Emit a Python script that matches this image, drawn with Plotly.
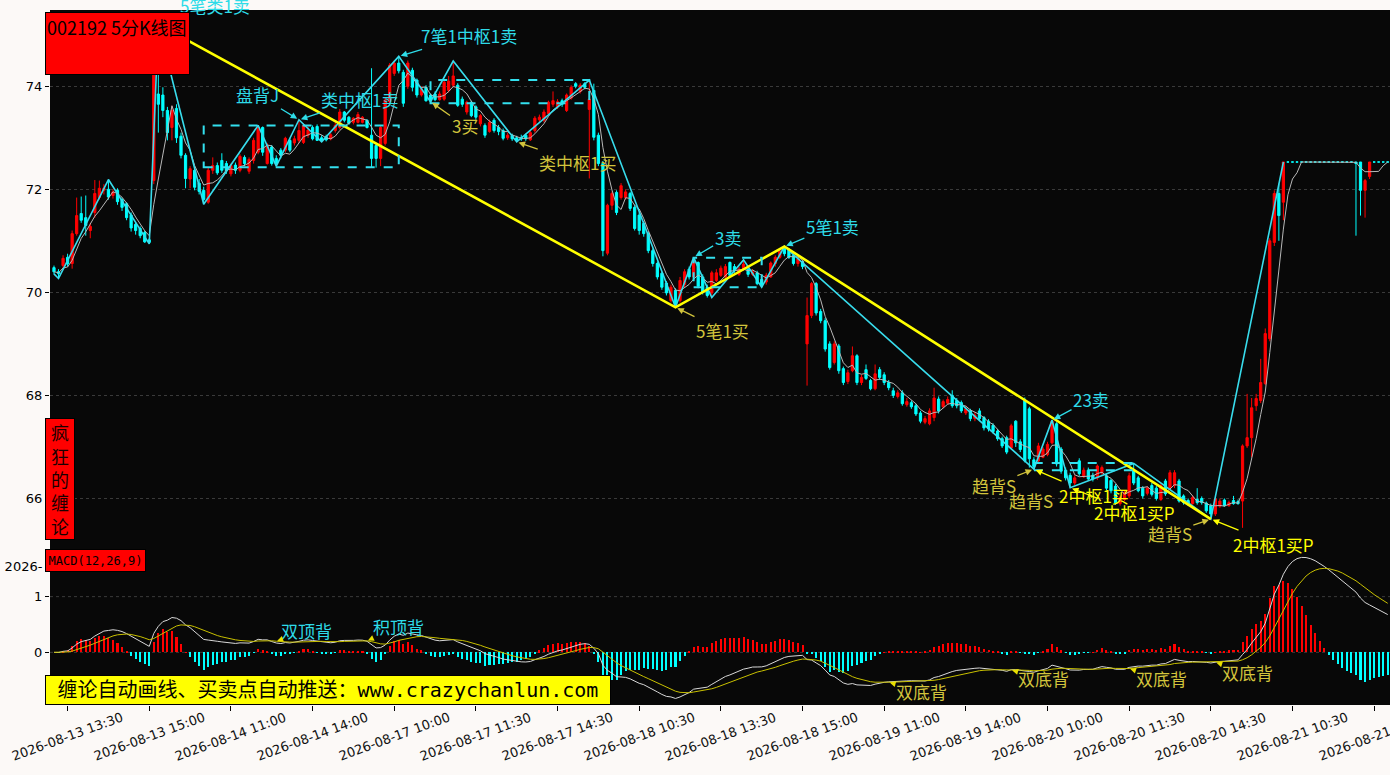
import numpy as np
import pandas as pd
import plotly.graph_objects as go

# ---------------- data (5-minute bars) ----------------
opens = [
    70.48, 70.40, 70.52, 70.68, 70.56, 71.14, 71.53, 71.45, 71.20, 71.55,
    71.84, 71.98, 72.00, 71.88, 71.98, 71.80, 71.72, 71.50, 71.32, 71.24,
    71.16, 71.02, 72.17, 73.85, 73.83, 73.53, 73.20, 73.57, 73.03, 72.66,
    72.20, 72.37, 72.12, 71.98, 71.75, 72.37, 72.46, 72.56, 72.50, 72.30,
    72.47, 72.37, 72.62, 72.35, 72.56, 72.72, 73.20, 72.50, 72.82, 72.60,
    72.76, 72.76, 72.95, 72.90, 72.95, 72.91, 73.05, 73.20, 73.22, 73.00,
    73.02, 72.98, 73.14, 73.20, 73.50, 73.40, 73.30, 73.30, 73.30, 73.34,
    73.05, 72.85, 72.60, 72.89, 73.70, 74.25, 74.45, 74.27, 74.00, 74.31,
    74.12, 73.83, 73.98, 73.83, 73.85, 73.74, 73.75, 73.92, 74.02, 74.02,
    73.75, 73.50, 73.69, 73.60, 73.27, 73.24, 73.12, 73.34, 73.20, 73.14,
    73.00, 73.04, 73.00, 73.00, 73.05, 72.96, 73.14, 73.35, 73.34, 73.47,
    73.65, 73.60, 73.72, 73.53, 73.77, 74.05, 73.90, 74.05, 73.55, 73.92,
    73.05, 72.50, 70.76, 71.69, 71.94, 71.84, 71.84, 71.92, 71.65, 71.50,
    71.34, 71.14, 70.81, 70.56, 70.37, 70.18, 69.84, 70.04, 69.84, 70.15,
    70.45, 70.30, 70.58, 70.30, 70.10, 69.99, 70.23, 70.33, 70.30, 70.58,
    70.50, 70.35, 70.45, 70.45, 70.35, 70.38, 70.25, 70.20, 70.30, 70.56,
    70.68, 70.85, 70.82, 70.72, 70.56, 70.60, 69.00, 69.55, 70.17, 69.63,
    69.45, 69.00, 68.64, 68.96, 68.52, 68.27, 68.48, 68.77, 68.25, 68.50,
    68.29, 68.13, 68.50, 68.40, 68.25, 68.09, 67.98, 68.05, 67.82, 67.86,
    67.80, 67.66, 67.48, 67.45, 67.57, 67.93, 67.78, 67.85, 68.00, 67.90,
    67.86, 67.66, 67.70, 67.55, 67.70, 67.57, 67.50, 67.42, 67.31, 67.16,
    67.18, 66.98, 67.50, 67.10, 67.90, 67.74, 66.75, 66.73, 66.80, 66.85,
    67.08, 67.45, 66.96, 66.55, 66.45, 66.30, 66.73, 66.42, 66.55, 66.45,
    66.40, 66.50, 66.44, 66.35, 66.24, 65.90, 65.98, 66.05, 66.55, 66.40,
    66.20, 66.10, 66.25, 66.20, 65.98, 66.34, 66.20, 66.25, 66.34, 66.05,
    65.96, 65.90, 65.98, 66.00, 65.91, 65.86, 65.70, 65.85, 65.97, 65.86,
    65.96, 65.94, 65.95, 67.02, 67.18, 67.80, 67.90, 68.23, 69.10, 70.97,
    71.92, 71.75, 72.53, 72.53, 72.53, 72.53, 72.53, 72.53, 72.53, 72.53,
    72.53, 72.53, 72.53, 72.53, 72.53, 72.53, 72.53, 72.53, 72.53, 71.98,
    72.25, 72.53, 72.53, 72.53, 72.53,
]
highs = [
    70.52, 70.45, 70.72, 70.75, 71.20, 71.84, 71.86, 71.88, 71.35, 72.18,
    72.17, 72.10, 72.19, 72.00, 72.02, 71.84, 71.75, 71.55, 71.36, 71.28,
    71.20, 71.05, 74.50, 75.20, 73.98, 73.60, 73.62, 73.65, 73.10, 72.70,
    72.45, 72.42, 72.20, 72.05, 72.42, 72.62, 72.52, 72.70, 72.55, 72.50,
    72.52, 72.68, 72.66, 72.62, 73.00, 73.24, 73.22, 72.90, 72.86, 72.66,
    72.80, 73.02, 73.00, 73.04, 73.35, 73.28, 73.22, 73.24, 73.26, 73.05,
    73.06, 73.10, 73.30, 73.56, 73.52, 73.42, 73.40, 73.50, 73.42, 73.36,
    74.35, 72.90, 73.25, 73.78, 74.45, 74.50, 74.58, 74.32, 74.50, 74.36,
    74.15, 74.00, 74.02, 73.86, 73.90, 73.90, 74.12, 74.20, 74.49, 74.06,
    73.80, 73.72, 73.72, 73.63, 73.46, 73.28, 73.35, 73.38, 73.25, 73.18,
    73.10, 73.08, 73.04, 73.06, 73.08, 73.14, 73.42, 73.45, 73.55, 73.72,
    73.90, 73.75, 73.76, 73.86, 74.02, 74.08, 74.06, 74.08, 74.12, 74.05,
    73.10, 72.55, 71.72, 71.96, 71.98, 72.12, 72.00, 71.95, 71.70, 71.55,
    71.38, 71.18, 70.85, 70.60, 70.40, 70.22, 70.15, 70.08, 70.30, 70.45,
    70.50, 70.68, 70.60, 70.35, 70.15, 70.42, 70.45, 70.52, 70.55, 70.60,
    70.55, 70.50, 70.63, 70.48, 70.45, 70.42, 70.30, 70.38, 70.60, 70.72,
    70.85, 70.89, 70.86, 70.75, 70.70, 70.62, 69.90, 70.20, 70.20, 69.68,
    69.50, 69.05, 69.05, 69.00, 68.56, 68.50, 68.95, 68.80, 68.40, 68.60,
    68.32, 68.60, 68.55, 68.45, 68.30, 68.15, 68.10, 68.10, 67.95, 67.90,
    67.84, 67.70, 67.60, 67.75, 68.15, 67.98, 67.92, 67.98, 68.10, 67.95,
    67.90, 67.80, 67.74, 67.68, 67.75, 67.60, 67.54, 67.46, 67.35, 67.20,
    67.22, 67.45, 67.52, 67.15, 67.96, 67.78, 66.80, 67.08, 67.00, 67.10,
    67.52, 67.48, 67.00, 66.60, 66.50, 66.45, 66.78, 66.60, 66.60, 66.50,
    66.66, 66.64, 66.48, 66.38, 66.28, 66.06, 66.16, 66.50, 66.68, 66.44,
    66.24, 66.24, 66.30, 66.24, 66.30, 66.38, 66.55, 66.55, 66.38, 66.08,
    66.00, 66.06, 66.20, 66.04, 65.94, 65.90, 66.02, 66.00, 66.00, 65.96,
    66.05, 65.98, 67.05, 68.03, 67.95, 68.03, 68.71, 69.30, 71.05, 71.98,
    72.11, 72.53, 72.53, 72.53, 72.53, 72.53, 72.53, 72.53, 72.53, 72.53,
    72.53, 72.53, 72.53, 72.53, 72.53, 72.53, 72.53, 72.53, 72.53, 72.20,
    72.53, 72.53, 72.53, 72.53, 72.53,
]
lows = [
    70.35, 70.27, 70.45, 70.50, 70.46, 71.10, 71.35, 71.10, 71.05, 71.45,
    71.80, 71.90, 71.80, 71.82, 71.70, 71.58, 71.40, 71.18, 71.12, 71.05,
    70.96, 70.94, 72.10, 73.10, 73.40, 72.95, 72.95, 72.90, 72.60, 72.02,
    72.02, 71.98, 71.90, 71.71, 71.72, 72.30, 72.28, 72.32, 72.30, 72.25,
    72.30, 72.33, 72.45, 72.30, 72.50, 72.68, 72.65, 72.48, 72.46, 72.45,
    72.60, 72.72, 72.72, 72.85, 72.90, 72.88, 73.00, 72.95, 72.94, 72.92,
    72.93, 72.95, 73.10, 73.16, 73.30, 73.25, 73.26, 73.28, 73.28, 73.18,
    72.42, 72.42, 72.45, 72.85, 73.65, 74.20, 74.25, 73.60, 73.95, 73.90,
    73.78, 73.80, 73.70, 73.70, 73.71, 73.72, 73.72, 73.88, 73.98, 73.60,
    73.60, 73.45, 73.40, 73.35, 73.22, 73.00, 73.10, 73.10, 73.05, 72.95,
    72.96, 72.94, 72.92, 72.94, 72.94, 72.94, 73.10, 73.30, 73.30, 73.44,
    73.60, 73.56, 73.60, 73.50, 73.74, 73.96, 73.86, 73.94, 72.21, 72.95,
    72.45, 70.70, 70.72, 71.60, 71.50, 71.80, 71.80, 71.58, 71.20, 71.12,
    71.08, 70.76, 70.50, 70.25, 70.05, 69.94, 69.80, 69.71, 69.80, 70.10,
    70.25, 70.25, 70.08, 69.96, 69.90, 69.90, 70.20, 70.30, 70.28, 70.30,
    70.38, 70.32, 70.42, 70.30, 70.32, 70.14, 70.10, 70.15, 70.28, 70.50,
    70.65, 70.70, 70.65, 70.52, 70.50, 70.45, 68.19, 69.50, 69.55, 69.40,
    68.85, 68.50, 68.60, 68.42, 68.20, 68.22, 68.45, 68.20, 68.20, 68.30,
    68.10, 68.10, 68.30, 68.20, 68.10, 67.95, 67.94, 67.80, 67.78, 67.74,
    67.60, 67.46, 67.44, 67.42, 67.50, 67.65, 67.75, 67.82, 67.76, 67.75,
    67.66, 67.62, 67.50, 67.50, 67.50, 67.32, 67.30, 67.26, 67.12, 66.98,
    66.86, 66.95, 67.00, 66.90, 66.70, 66.60, 66.57, 66.70, 66.78, 66.82,
    67.05, 66.62, 66.48, 66.35, 66.21, 66.26, 66.44, 66.40, 66.34, 66.33,
    66.36, 66.46, 66.16, 66.10, 65.88, 65.86, 65.95, 66.00, 66.26, 66.12,
    66.00, 66.06, 66.04, 65.96, 65.95, 66.05, 66.15, 66.20, 65.92, 65.88,
    65.86, 65.88, 65.88, 65.88, 65.72, 65.60, 65.66, 65.82, 65.84, 65.84,
    65.88, 65.88, 65.43, 66.98, 66.80, 67.70, 67.85, 68.20, 69.05, 70.90,
    71.00, 71.40, 72.53, 72.53, 72.53, 72.53, 72.53, 72.53, 72.53, 72.53,
    72.53, 72.53, 72.53, 72.53, 72.53, 72.53, 72.53, 71.10, 71.49, 71.45,
    72.20, 72.53, 72.53, 72.53, 72.53,
]
closes = [
    70.40, 70.36, 70.66, 70.55, 71.14, 71.49, 71.40, 71.30, 71.28, 71.92,
    72.02, 72.02, 71.85, 71.95, 71.76, 71.65, 71.45, 71.25, 71.20, 71.10,
    70.98, 70.97, 74.30, 73.65, 73.53, 73.10, 73.53, 73.00, 72.66, 72.21,
    72.40, 72.04, 71.96, 71.80, 72.37, 72.46, 72.32, 72.37, 72.36, 72.46,
    72.37, 72.64, 72.50, 72.58, 72.95, 73.20, 72.72, 72.85, 72.50, 72.50,
    72.66, 72.99, 72.76, 72.98, 73.14, 73.24, 73.15, 72.98, 72.95, 72.95,
    72.96, 73.06, 73.24, 73.50, 73.34, 73.28, 73.38, 73.45, 73.40, 73.20,
    72.60, 72.60, 73.20, 73.73, 74.41, 74.45, 74.30, 73.67, 74.45, 73.98,
    73.83, 73.95, 73.72, 73.72, 73.74, 73.85, 74.08, 74.10, 74.20, 73.63,
    73.65, 73.69, 73.43, 73.40, 73.43, 73.05, 73.30, 73.14, 73.12, 72.99,
    73.05, 72.98, 72.95, 72.98, 72.98, 73.10, 73.38, 73.40, 73.50, 73.69,
    73.72, 73.70, 73.65, 73.83, 73.98, 74.00, 74.02, 73.98, 73.75, 73.01,
    72.50, 70.81, 71.69, 71.92, 71.55, 72.07, 71.95, 71.63, 71.24, 71.20,
    71.14, 70.81, 70.56, 70.30, 70.10, 69.99, 70.10, 69.74, 70.23, 70.40,
    70.30, 70.62, 70.12, 70.00, 69.94, 70.38, 70.38, 70.47, 70.50, 70.33,
    70.42, 70.45, 70.55, 70.35, 70.40, 70.17, 70.15, 70.33, 70.57, 70.68,
    70.80, 70.75, 70.68, 70.56, 70.65, 70.50, 69.55, 70.17, 69.60, 69.45,
    68.90, 68.54, 69.00, 68.48, 68.25, 68.44, 68.77, 68.25, 68.35, 68.33,
    68.13, 68.42, 68.35, 68.25, 68.15, 68.00, 68.05, 67.84, 67.88, 67.78,
    67.64, 67.50, 67.55, 67.70, 67.95, 67.70, 67.88, 67.92, 67.80, 67.80,
    67.70, 67.74, 67.55, 67.62, 67.55, 67.37, 67.35, 67.30, 67.16, 67.02,
    66.90, 67.41, 67.08, 66.95, 66.73, 66.77, 66.62, 67.02, 66.96, 67.05,
    67.50, 66.67, 66.53, 66.40, 66.30, 66.40, 66.48, 66.55, 66.38, 66.38,
    66.63, 66.60, 66.20, 66.15, 65.91, 66.02, 66.12, 66.44, 66.30, 66.15,
    66.05, 66.20, 66.08, 66.00, 66.25, 66.09, 66.50, 66.50, 65.95, 65.92,
    65.90, 66.02, 65.92, 65.92, 65.76, 65.70, 65.99, 65.95, 65.86, 65.92,
    65.90, 65.90, 67.02, 67.18, 67.76, 67.94, 68.25, 69.20, 71.00, 71.92,
    71.49, 72.53, 72.53, 72.53, 72.53, 72.53, 72.53, 72.53, 72.53, 72.53,
    72.53, 72.53, 72.53, 72.53, 72.53, 72.53, 72.53, 72.50, 71.98, 72.17,
    72.53, 72.53, 72.53, 72.53, 72.53,
]

tick_bars = [3, 21, 39, 57, 75, 93, 111, 129, 147, 165, 183, 201, 219, 237, 255, 273, 291]
tick_labels = [
    "2026-08-13 13:30", "2026-08-13 15:00", "2026-08-14 11:00", "2026-08-14 14:00",
    "2026-08-17 10:00", "2026-08-17 11:30", "2026-08-17 14:30", "2026-08-18 10:30",
    "2026-08-18 13:30", "2026-08-18 15:00", "2026-08-19 11:00", "2026-08-19 14:00",
    "2026-08-20 10:00", "2026-08-20 11:30", "2026-08-20 14:30", "2026-08-21 10:30",
    "2026-08-21 13:30",
]

# 笔 (strokes) and 线段 (segments)
bi_idx = [0, 1, 12, 21, 23, 33, 45, 49, 54, 59, 76, 83, 88, 102, 118, 137, 141,
          145, 152, 156, 161, 216, 220, 224, 238, 255, 271]
bi_price = [70.36, 70.27, 72.19, 70.94, 75.20, 71.71, 73.24, 72.45, 73.35, 72.92,
            74.58, 73.70, 74.49, 72.92, 74.12, 69.71, 70.68, 69.90, 70.63, 70.10,
            70.89, 66.57, 67.52, 66.21, 66.68, 65.60, 72.53]
seg_idx = [23, 137, 161, 255]
seg_price = [75.20, 69.71, 70.89, 65.60]

# 中枢 boxes
zs_start = [33, 83, 141, 216]
zs_end = [76, 118, 156, 238]
zs_low = [72.43, 73.67, 70.10, 66.55]
zs_high = [73.24, 74.12, 70.67, 66.69]

# signal labels: text, pivot bar, text offset (px), colour key
price_notes = [
    ("5笔类1卖", 23, 57, -19, "c"),
    ("7笔1中枢1卖", 76, 70, -21, "c"),
    ("盘背J", 54, -41, -25, "c"),
    ("类中枢1卖", 54, 61, -20, "c"),
    ("3买", 83, 34, 24, "g"),
    ("类中枢1买", 102, 61, 21, "g"),
    ("5笔1买", 137, 47, 23, "g"),
    ("3卖", 141, 34, -20, "c"),
    ("5笔1卖", 161, 48, -20, "c"),
    ("23卖", 220, 39, -21, "c"),
    ("趋背S", 216, -40, 16, "g"),
    ("2中枢1买", 216, 60, 26, "y"),
    ("2中枢1买P", 224, 64, 25, "y"),
    ("趋背S", 255, -41, 14, "g"),
    ("2中枢1买P", 255, 63, 25, "y"),
]
macd_notes = [
    ("双顶背", 49, 30, -11, "c"),
    ("积顶背", 69, 31, -14, "c"),
    ("双底背", 184, 33, 9, "g"),
    ("双底背", 211, 32, 9, "g"),
    ("双底背", 237, 32, 10, "g"),
    ("双底背", 256, 32, 10, "g"),
]

RED = "#ff0000"
CYAN = "#00ffff"
BG = "#080808"
TXT = {"c": "#2edce8", "g": "#d2c43c", "y": "#ffff00"}
CJK = "Noto Sans CJK SC"

# ---------------- indicators ----------------
n = len(closes)
idx = np.arange(n)
o, h, l, c = (np.array(v) for v in (opens, highs, lows, closes))
cs = pd.Series(c)
ma5 = cs.rolling(5, min_periods=1).mean()
dif = cs.ewm(span=12, adjust=False).mean() - cs.ewm(span=26, adjust=False).mean()
dea = dif.ewm(span=9, adjust=False).mean()
hist = 2 * (dif - dea)

flat = (o == h) & (h == l) & (l == c)
norm = ~flat

fig = go.Figure()
fig.add_trace(go.Candlestick(
    x=idx[norm], open=o[norm], high=h[norm], low=l[norm], close=c[norm],
    increasing=dict(line=dict(color=RED, width=1), fillcolor=RED),
    decreasing=dict(line=dict(color=CYAN, width=1), fillcolor=CYAN),
    whiskerwidth=0, showlegend=False, hoverinfo="skip", yaxis="y"))
fig.add_trace(go.Candlestick(
    x=idx[flat], open=o[flat], high=h[flat], low=l[flat], close=c[flat],
    increasing=dict(line=dict(color=CYAN, width=1), fillcolor=CYAN),
    decreasing=dict(line=dict(color=CYAN, width=1), fillcolor=CYAN),
    whiskerwidth=0, showlegend=False, hoverinfo="skip", yaxis="y"))
fig.add_trace(go.Scatter(x=idx, y=ma5, mode="lines", line=dict(color="#b8b8b8", width=1),
                         showlegend=False, hoverinfo="skip", yaxis="y"))
fig.add_trace(go.Scatter(x=bi_idx, y=bi_price, mode="lines", line=dict(color="#38dcec", width=1.6),
                         showlegend=False, hoverinfo="skip", yaxis="y"))
fig.add_trace(go.Scatter(x=seg_idx, y=seg_price, mode="lines", line=dict(color="#ffff00", width=2.6),
                         showlegend=False, hoverinfo="skip", yaxis="y"))

# MACD panel
fig.add_trace(go.Bar(x=idx, y=hist, width=0.45,
                     marker=dict(color=[RED if v >= 0 else CYAN for v in hist], line=dict(width=0)),
                     showlegend=False, hoverinfo="skip", yaxis="y2"))
fig.add_trace(go.Scatter(x=idx, y=dif, mode="lines", line=dict(color="#d8d8d8", width=1),
                         showlegend=False, hoverinfo="skip", yaxis="y2"))
fig.add_trace(go.Scatter(x=idx, y=dea, mode="lines", line=dict(color="#c8c000", width=1),
                         showlegend=False, hoverinfo="skip", yaxis="y2"))

shapes = [dict(type="rect", xref="paper", yref="paper", x0=0, x1=1, y0=0, y1=1,
               fillcolor=BG, line=dict(width=0), layer="below")]
for s, e, lo, hi in zip(zs_start, zs_end, zs_low, zs_high):
    shapes.append(dict(type="rect", xref="x", yref="y", x0=s, x1=e, y0=lo, y1=hi,
                       line=dict(color="#33e0ee", width=2, dash="dash"), layer="above"))
for lv in (1, 0):
    shapes.append(dict(type="line", xref="paper", yref="y2", x0=0, x1=1, y0=lv, y1=lv,
                       line=dict(color="#3a3a3a", width=1, dash="dot"), layer="below"))

pivot = dict(zip(bi_idx, bi_price))
ann = []
for txt, b, dx, dy, col in price_notes:
    ann.append(dict(x=b, y=pivot[b], xref="x", yref="y", text=txt, showarrow=True,
                    ax=dx, ay=dy, arrowhead=2, arrowsize=1, arrowwidth=1.3,
                    arrowcolor=TXT[col], standoff=2,
                    font=dict(family=CJK, size=17, color=TXT[col])))
ann.append(dict(x=224, y=pivot[224], xref="x", yref="y", text="趋背S", showarrow=False,
                xshift=-39, yshift=-13, font=dict(family=CJK, size=17, color=TXT["g"])))
for txt, b, dx, dy, col in macd_notes:
    ann.append(dict(x=b, y=dea[b], xref="x", yref="y2", text=txt, showarrow=True,
                    ax=dx, ay=dy, arrowhead=2, arrowsize=1, arrowwidth=1.2,
                    arrowcolor="#e8e000", standoff=1,
                    font=dict(family=CJK, size=17, color=TXT[col])))

# x tick labels, centred and tilted
for b, lab in zip(tick_bars, tick_labels):
    ann.append(dict(x=b, y=-0.046, xref="x", yref="paper", text=lab, showarrow=False,
                    textangle=-20, xanchor="center", yanchor="middle",
                    font=dict(family="DejaVu Sans", size=13, color="#111111")))

# boxes
ann.append(dict(x=-0.0037, y=0.9971, xref="paper", yref="paper", xanchor="left", yanchor="top",
                text="002192 5分K线图", showarrow=False, align="left", valign="top",
                width=141, height=59, bgcolor="#ff0000", bordercolor="#000000", borderwidth=1,
                borderpad=1, font=dict(family=CJK, size=18, color="#000000")))
ann.append(dict(x=0.0078, y=0.3252, xref="paper", yref="paper", xanchor="center", yanchor="middle",
                text="疯<br>狂<br>的<br>缠<br>论", showarrow=False,
                width=26, height=118, bgcolor="#ff0000", bordercolor="#000000", borderwidth=1,
                borderpad=1, font=dict(family=CJK, size=18, color="#1a0000")))
ann.append(dict(x=-0.0037, y=0.2245, xref="paper", yref="paper", xanchor="left", yanchor="top",
                text="MACD(12,26,9)", showarrow=False,
                width=97, height=19, bgcolor="#ff0000", bordercolor="#000000", borderwidth=1,
                borderpad=1, font=dict(family="DejaVu Sans Mono", size=12, color="#000000")))
ann.append(dict(x=-0.0037, y=0.0432, xref="paper", yref="paper", xanchor="left", yanchor="top",
                text="缠论自动画线、买卖点自动推送：www.crazychanlun.com", showarrow=False,
                width=562, height=26, bgcolor="#ffff00", bordercolor="#000000", borderwidth=1,
                borderpad=1, font=dict(family="DejaVu Sans Mono, " + CJK, size=20, color="#000000")))

fig.update_layout(
    width=1390, height=775,
    margin=dict(l=50, r=0, t=10, b=70),
    paper_bgcolor="#fcf9f7", plot_bgcolor=BG,
    font=dict(family=CJK + ", DejaVu Sans", color="#000000"),
    showlegend=False, bargap=0,
    xaxis=dict(range=[-0.88, 294.5], anchor="y2", tickvals=tick_bars,
               ticktext=[""] * len(tick_bars), ticks="outside", ticklen=5,
               tickcolor="#000000", showgrid=False, zeroline=False,
               rangeslider=dict(visible=False)),
    yaxis=dict(domain=[0.2245, 1], range=[65.02, 75.48], tickvals=[66, 68, 70, 72, 74],
               ticks="outside", ticklen=4, tickcolor="#000000",
               tickfont=dict(family="DejaVu Sans", size=13, color="#000000"),
               showgrid=True, gridcolor="#3a3a3a", griddash="dot", zeroline=False),
    yaxis2=dict(domain=[0, 0.2215], range=[-0.945, 1.818], tickvals=[1.545, 1, 0],
                ticktext=["2026-", "1", "0"], ticks="outside", ticklen=4, tickcolor="#000000",
                tickfont=dict(family="DejaVu Sans", size=13, color="#000000"),
                showgrid=False, zeroline=False),
    shapes=shapes, annotations=ann,
)

fig.write_html("out.html", config={"displayModeBar": False},
               post_script="document.body.style.margin='0';")
